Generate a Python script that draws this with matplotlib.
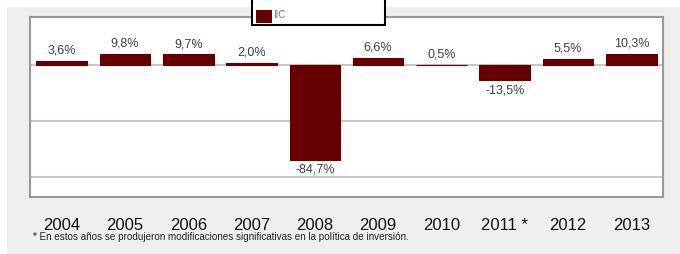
import matplotlib.pyplot as plt
import matplotlib.patches as mpatches

years = ['2004', '2005', '2006', '2007', '2008', '2009', '2010', '2011 *', '2012', '2013']
values = [3.6, 9.8, 9.7, 2.0, -84.7, 6.6, 0.5, -13.5, 5.5, 10.3]
labels = ['3,6%', '9,8%', '9,7%', '2,0%', '-84,7%', '6,6%', '0,5%', '-13,5%', '5,5%', '10,3%']
series_name = 'IIC'
footnote = '* En estos años se produjeron modificaciones significativas en la política de inversión.'

plt.rcParams['font.family'] = ['Liberation Sans', 'DejaVu Sans']

fig = plt.figure(figsize=(6.8, 2.54), dpi=100, facecolor='white')
# gray panel behind the chart
fig.patches.append(mpatches.Rectangle((7/680, 0), 1, 1 - 7/254, transform=fig.transFigure,
                                      facecolor='#efefef', edgecolor='none', zorder=-5))

ax = fig.add_axes([30/680, 57/254, 633/680, 180/254])
ax.set_facecolor('white')
x = range(len(years))
ax.bar(x, values, width=0.8, color='#660000', edgecolor='#660000', linewidth=0.8, zorder=3)

for xi, v, t in zip(x, values, labels):
    off = 3 if v >= 0 else -3
    ax.annotate(t, (xi, v), xytext=(0, off), textcoords='offset points',
                ha='center', va='bottom' if v >= 0 else 'top', fontsize=9, color='#404040')

ax.set_ylim(-118, 43)
ax.set_xlim(-0.5, len(years) - 0.5)
ax.set_yticks([0, -50, -100])
ax.set_yticklabels([])
ax.tick_params(axis='y', length=0)
ax.yaxis.grid(True, color='#c8c8c8', linewidth=1.5, zorder=1)
ax.set_xticks(list(x))
ax.set_xticklabels(years, fontsize=12, color='#111111')
ax.tick_params(axis='x', length=0, pad=15)
for s in ax.spines.values():
    s.set_color('#999999')
    s.set_linewidth(1.5)

# legend box, cut off at the top
fig.patches.append(mpatches.Rectangle((252/680, 229/254), 133/680, 40/254, transform=fig.transFigure,
                                      facecolor='white', edgecolor='black', linewidth=1.5, zorder=5))
fig.patches.append(mpatches.Rectangle((256/680, 231/254), 16/680, 13/254, transform=fig.transFigure,
                                      facecolor='#660000', edgecolor='none', zorder=6))
fig.text(273/680, 239/254, series_name, fontsize=7, color='#7070b0', va='center', ha='left', zorder=7)

fig.text(33/680, 17/254, footnote, fontsize=7.1, color='#202020', va='center', ha='left')

fig.savefig('out.png', dpi=100, facecolor=fig.get_facecolor())
